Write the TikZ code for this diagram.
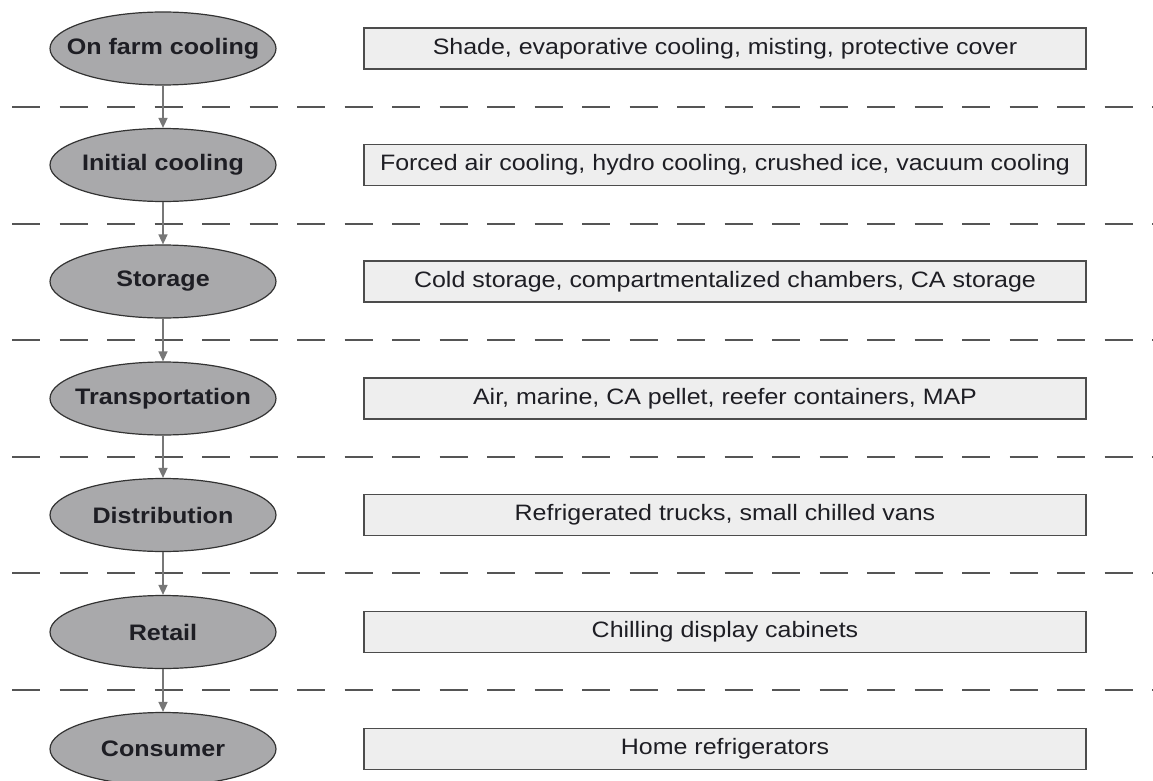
\documentclass[tikz,border=0pt]{standalone}
\usepackage{fontspec}
\setmainfont[FakeStretch=1.12]{Liberation Sans}
\usetikzlibrary{shapes.geometric,arrows.meta}
\definecolor{ellfill}{HTML}{A9A9AB}
\definecolor{boxfill}{HTML}{EEEEEE}
\definecolor{dashgray}{HTML}{555555}
\definecolor{arrgray}{HTML}{777777}
\definecolor{txt}{HTML}{1E1E24}
\newcommand{\stagetext}[1]{\makebox[0pt][c]{#1}}
\begin{document}
\begin{tikzpicture}[x=1pt,y=-1pt,
  stage/.style={ellipse,draw=black!80,line width=1.2pt,fill=ellfill,
    minimum width=226pt,minimum height=73pt,inner sep=0pt,
    font=\fontsize{22.4}{26}\selectfont\bfseries,text=txt},
  method/.style={rectangle,draw=black!70,line width=1.3pt,fill=boxfill,
    minimum width=722pt,minimum height=41pt,inner sep=0pt,
    font=\fontsize{22.3}{26}\selectfont,text=txt},
  sep/.style={dashgray,line width=2pt,dash pattern=on 28pt off 19.5pt},
  flow/.style={arrgray,line width=1.5pt,-{Triangle[length=10pt,width=9pt]}}]
\useasboundingbox (0,0) rectangle (1153,781);
\fill[white] (0,0) rectangle (1153,781);
% dashed separators
\foreach \yy in {107,223.5,340,456.5,573,690}
  \draw[sep] (12,\yy) -- (1153,\yy);
% stages
\node[stage] (s1) at (163,48.5) {\stagetext{On farm cooling}};
\node[stage] (s2) at (163,165) {\stagetext{Initial cooling}};
\node[stage] (s3) at (163,281.5) {\stagetext{Storage}};
\node[stage] (s4) at (163,398.5) {\stagetext{Transportation}};
\node[stage] (s5) at (163,515) {\stagetext{Distribution}};
\node[stage] (s6) at (163,632) {\stagetext{Retail}};
\node[stage] (s7) at (163,749) {\stagetext{Consumer}};
% methods
\node[method] (m1) at (725,48.5) {Shade, evaporative cooling, misting, protective cover};
\node[method] (m2) at (725,165) {Forced air cooling, hydro cooling, crushed ice, vacuum cooling};
\node[method] (m3) at (725,281.5) {Cold storage, compartmentalized chambers, CA storage};
\node[method] (m4) at (725,398.5) {Air, marine, CA pellet, reefer containers, MAP};
\node[method] (m5) at (725,515) {Refrigerated trucks, small chilled vans};
\node[method] (m6) at (725,632) {Chilling display cabinets};
\node[method] (m7) at (725,749) {Home refrigerators};
% arrows
\draw[flow] (s1.south) -- (s2.north);
\draw[flow] (s2.south) -- (s3.north);
\draw[flow] (s3.south) -- (s4.north);
\draw[flow] (s4.south) -- (s5.north);
\draw[flow] (s5.south) -- (s6.north);
\draw[flow] (s6.south) -- (s7.north);
\end{tikzpicture}
\end{document}
